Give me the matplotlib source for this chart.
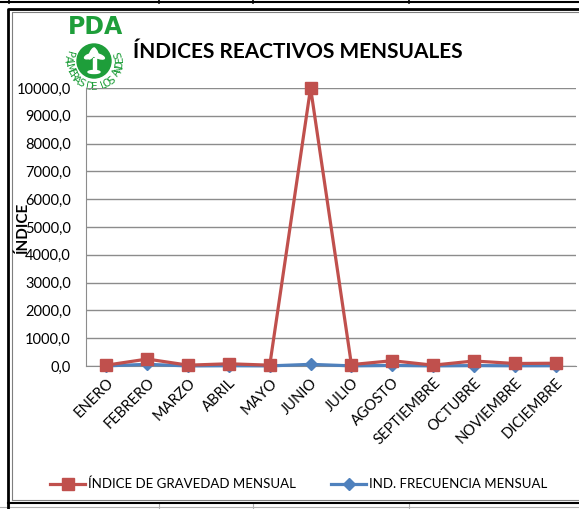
import numpy as np
import matplotlib
matplotlib.use('Agg')
import matplotlib.pyplot as plt
from matplotlib.patches import Circle, Ellipse, Rectangle

meses = ['ENERO', 'FEBRERO', 'MARZO', 'ABRIL', 'MAYO', 'JUNIO', 'JULIO',
         'AGOSTO', 'SEPTIEMBRE', 'OCTUBRE', 'NOVIEMBRE', 'DICIEMBRE']
gravedad = [30, 250, 30, 80, 30, 10000, 50, 190, 30, 180, 90, 100]
frecuencia = [5, 60, 3, 10, 4, 60, 5, 20, 4, 15, 8, 10]
y_ticks = [0, 1000, 2000, 3000, 4000, 5000, 6000, 7000, 8000, 9000, 10000]

ROJO = '#C0504D'
AZUL = '#4F81BD'
VERDE = '#1E9E3A'
plt.rcParams['font.family'] = ['Lato', 'DejaVu Sans']

W, H = 579, 509
fig = plt.figure(figsize=(W/100, H/100), dpi=100)

# fondo: bordes de celdas y marco del grafico, en pixeles
bg = fig.add_axes([0, 0, 1, 1], zorder=0)
bg.set_xlim(0, W)
bg.set_ylim(H, 0)
bg.axis('off')
bg.plot([0, W], [2, 2], color='k', lw=1.5)
for xv in [9, 159, 253, 409]:
    bg.plot([xv, xv], [0, 3], color='k', lw=1.2)
    bg.plot([xv, xv], [503, H], color='#b0b0b0', lw=0.8)
bg.plot([0, W], [507, 507], color='#b0b0b0', lw=0.8)
bg.plot([8, 8, W], [H, 9, 9], color='k', lw=2)
bg.plot([12, 12, W], [500, 12, 12], color='#7f7f7f', lw=0.8)
bg.plot([12, W], [500, 500], color='#7f7f7f', lw=0.8)
bg.plot([8, W], [503, 503], color='k', lw=1.5)

# logo PDA
bg.text(95, 27, 'PDA', color=VERDE, fontsize=17, fontweight='bold',
        family='DejaVu Sans', ha='center', va='center')
cx, cy = 94, 61
bg.add_patch(Circle((cx, cy), 17, color=VERDE))
for ang, ln in [(20, 12), (70, 10), (115, 12), (160, 10)]:
    a = np.deg2rad(ang)
    bg.add_patch(Ellipse((cx + 5*np.cos(a), cy - 3 - 5*np.sin(a)), ln, 4,
                         angle=ang, color='white'))
bg.add_patch(Rectangle((cx - 1.5, cy - 3), 3, 14, color='white'))
bg.add_patch(Ellipse((cx, cy + 11), 12, 3, color='white'))
texto = 'PALMERAS DE LOS ANDES'
angs = np.linspace(165, 375, len(texto))
for ch, a in zip(texto, angs):
    r = np.deg2rad(a)
    bg.text(cx + 26*np.cos(r), cy - 26*np.sin(r), ch, color=VERDE,
            fontsize=7.5, rotation=a + 90, ha='center', va='center',
            family='DejaVu Sans')

fig.text(298/W, 1 - 52/H, 'ÍNDICES REACTIVOS MENSUALES', fontsize=15,
         fontweight='bold', ha='center', va='center')

ax = fig.add_axes([86/W, 1 - 366/H, (576 - 86)/W, (366 - 88)/H], zorder=1)
ax.patch.set_alpha(0)
x = np.arange(len(meses))
ax.plot(x, frecuencia, color=AZUL, lw=2.3, marker='D', markersize=6,
        label='IND. FRECUENCIA MENSUAL', clip_on=False, zorder=3)
ax.plot(x, gravedad, color=ROJO, lw=2.3, marker='s', markersize=8.5,
        label='ÍNDICE DE GRAVEDAD MENSUAL', clip_on=False, zorder=4)

ax.set_xlim(-0.5, len(meses) - 0.5)
ax.set_ylim(0, 10000)
ax.set_yticks(y_ticks)
ax.set_yticklabels([f'{v:.1f}'.replace('.', ',') for v in y_ticks], fontsize=10.5)
ax.set_xticks(x)
ax.set_xticklabels(meses, fontsize=10.5, rotation=45, ha='right', va='top',
                   rotation_mode='anchor')
ax.tick_params(axis='y', length=0, pad=11)
ax.tick_params(axis='x', length=0, pad=7)
ax.grid(axis='y', color='#8c8c8c', lw=1)
ax.set_axisbelow(True)
for s in ['top', 'right']:
    ax.spines[s].set_visible(False)
ax.spines['left'].set_color('#8c8c8c')
ax.spines['bottom'].set_color('#8c8c8c')
ax.set_ylabel('ÍNDICE', fontsize=11, fontweight='bold')
ax.yaxis.set_label_coords(-0.115, 0.5)

h, l = ax.get_legend_handles_labels()
fig.legend(h[::-1], l[::-1], loc='center', bbox_to_anchor=(0.516, 1 - 484/H),
           ncol=2, frameon=False, fontsize=9.5, handlelength=2.65,
           handletextpad=0.2, columnspacing=2.7)

fig.savefig('out.png', dpi=100)
